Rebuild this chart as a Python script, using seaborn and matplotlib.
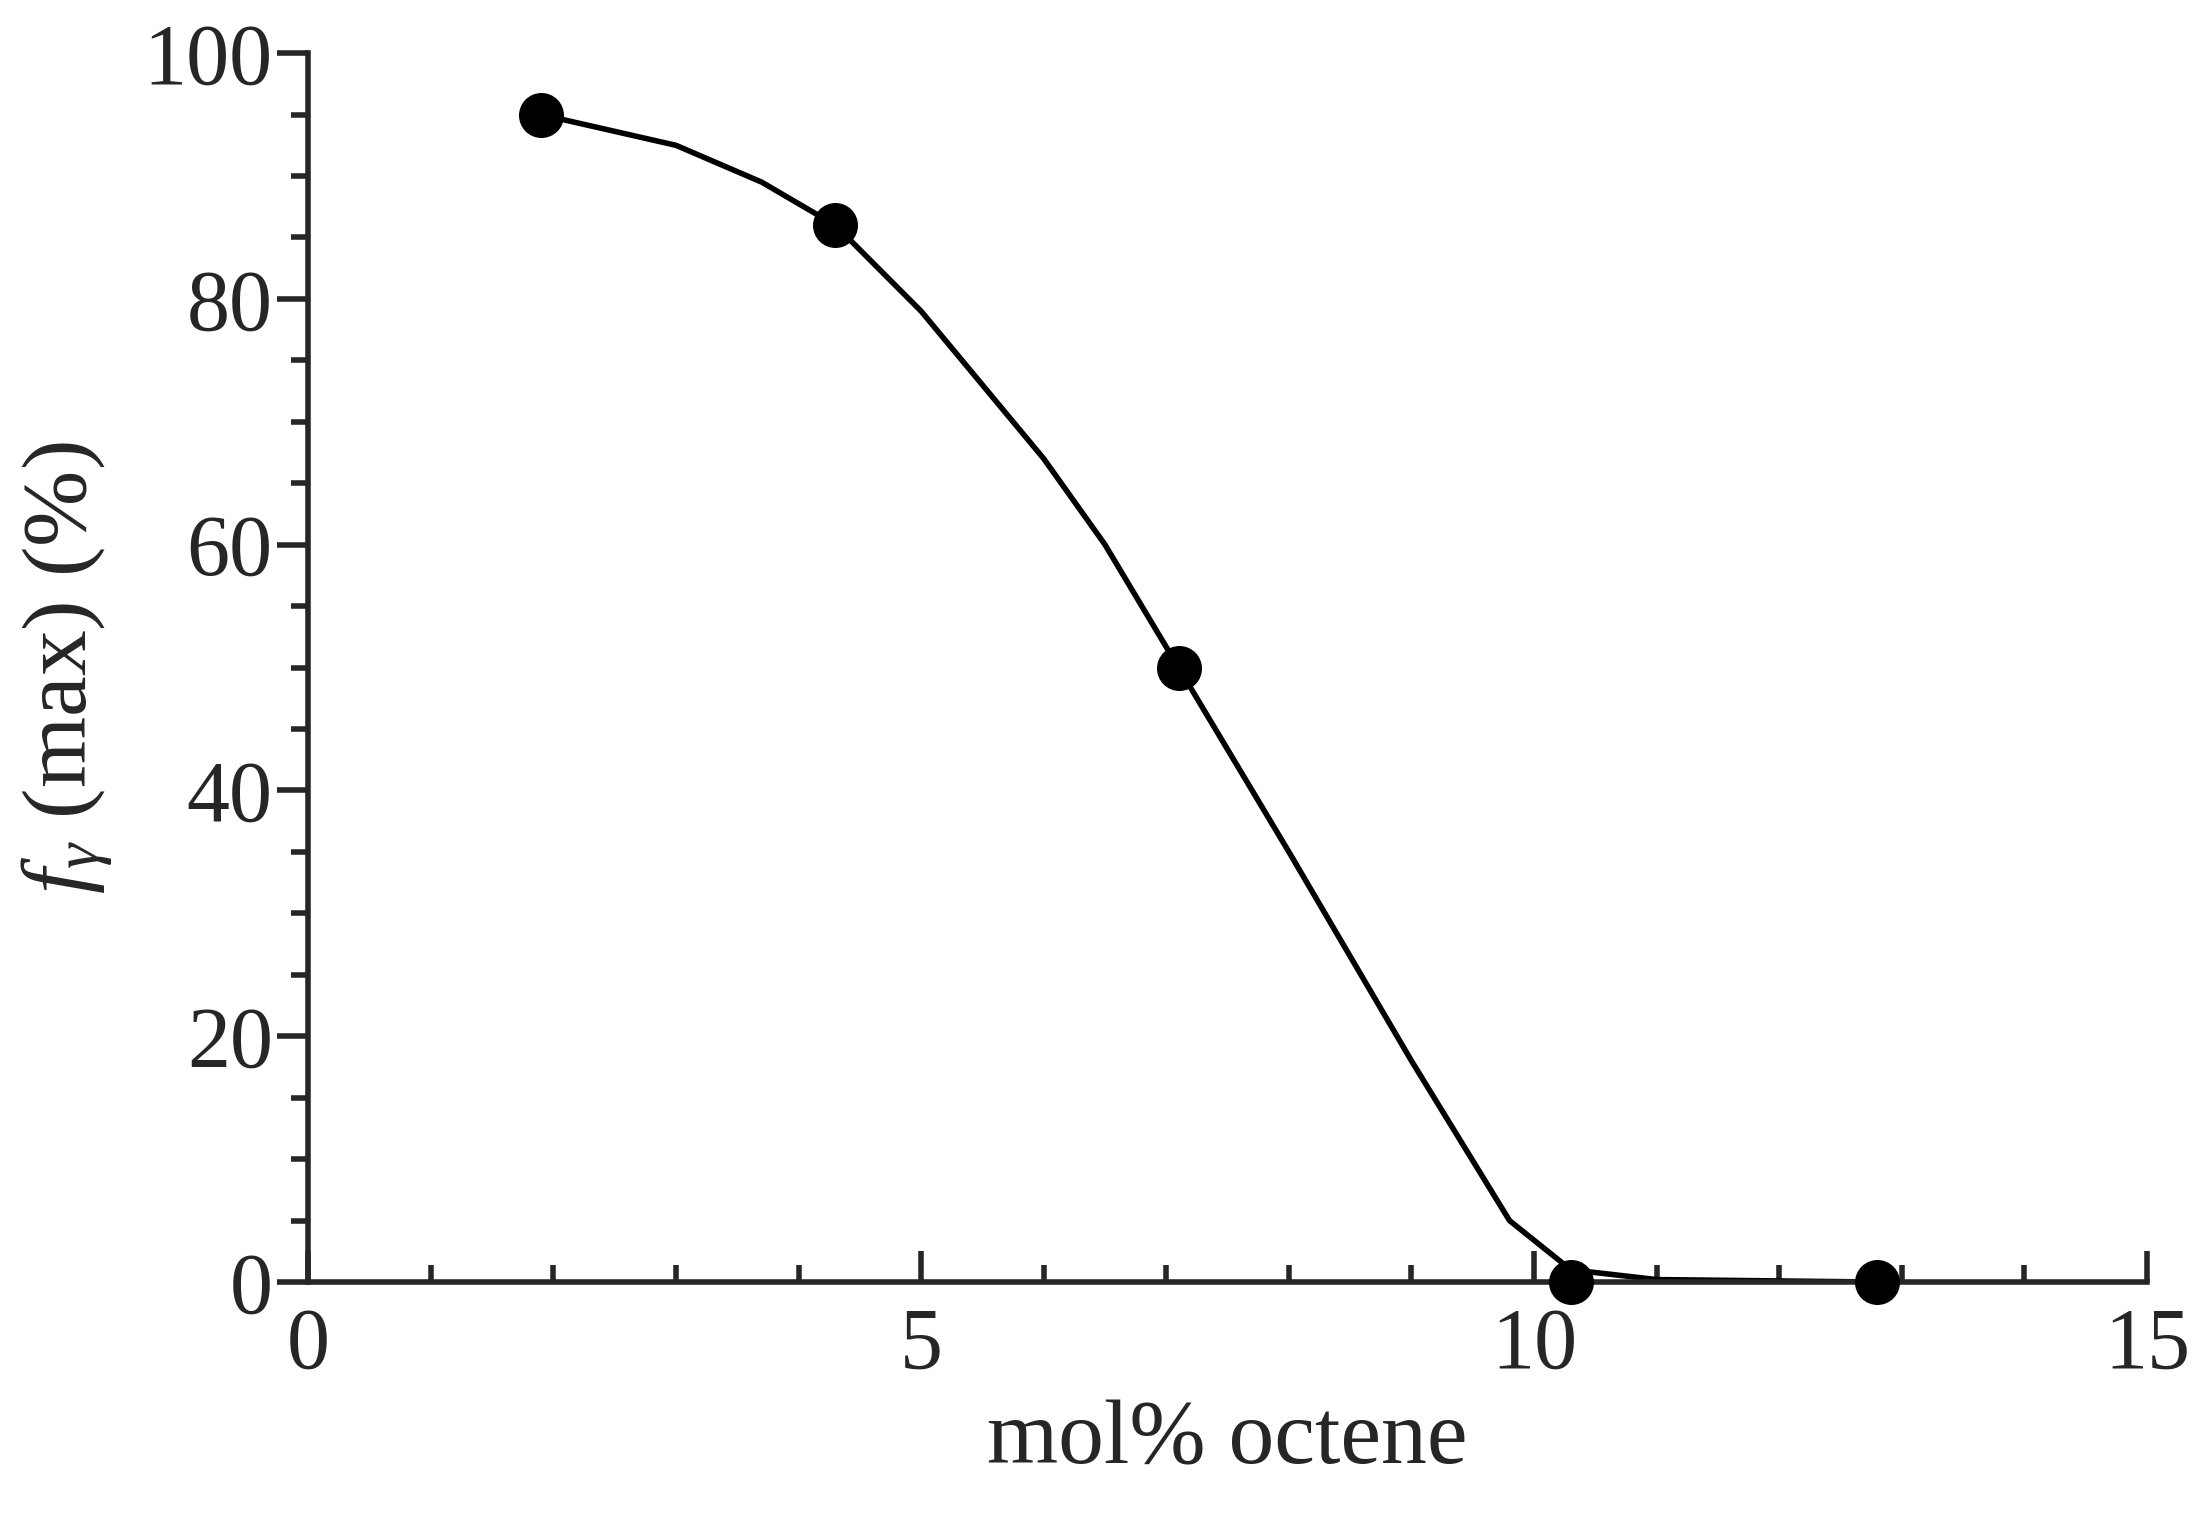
import matplotlib
matplotlib.use("Agg")
import matplotlib.pyplot as plt
import seaborn as sns
import pandas as pd
from matplotlib.ticker import MultipleLocator

octene = [1.9, 4.3, 7.1, 10.3, 12.8]
f_gamma = [95, 86, 50, 0, 0]
curve_x = [1.9, 3.0, 3.7, 4.3, 5.0, 6.0, 6.5, 7.1, 8.0, 9.0, 9.8, 10.3, 11.0, 12.8]
curve_y = [95, 92.5, 89.5, 86, 79, 67, 60, 50, 35, 18, 5, 1, 0.2, 0]

sns.set_style("ticks")
plt.rcParams['font.family'] = ['Liberation Serif', 'DejaVu Serif']
plt.rcParams['mathtext.fontset'] = 'custom'
plt.rcParams['mathtext.it'] = 'Liberation Serif:italic'
plt.rcParams['mathtext.rm'] = 'Liberation Serif'

fig = plt.figure(figsize=(22.02, 15.19), dpi=100)
ax = fig.add_axes([0.140, 0.156, 0.835, 0.809])
sns.lineplot(x=curve_x, y=curve_y, ax=ax, color='black', linewidth=4, sort=False)
sns.scatterplot(x=octene, y=f_gamma, ax=ax, color='black', s=900, edgecolor='black', zorder=5, clip_on=False)

ax.set_xlim(0, 15)
ax.set_ylim(0, 100)
ax.xaxis.set_major_locator(MultipleLocator(5))
ax.xaxis.set_minor_locator(MultipleLocator(1))
ax.yaxis.set_major_locator(MultipleLocator(20))
ax.yaxis.set_minor_locator(MultipleLocator(5))
for s in ['top', 'right']:
    ax.spines[s].set_visible(False)
for s in ['left', 'bottom']:
    ax.spines[s].set_linewidth(4)
ax.tick_params(axis='x', which='major', direction='in', length=22, width=4, labelsize=62, pad=18)
ax.tick_params(axis='x', which='minor', direction='in', length=12, width=4)
ax.tick_params(axis='y', which='major', direction='out', length=22, width=4, labelsize=62)
ax.tick_params(axis='y', which='minor', direction='out', length=12, width=4)
ax.set_xlabel('mol% octene', fontsize=66, labelpad=10)
ax.set_ylabel(r'$f_{\gamma}$ (max) (%)', fontsize=66, labelpad=20)
fig.savefig('out.png', dpi=100)
